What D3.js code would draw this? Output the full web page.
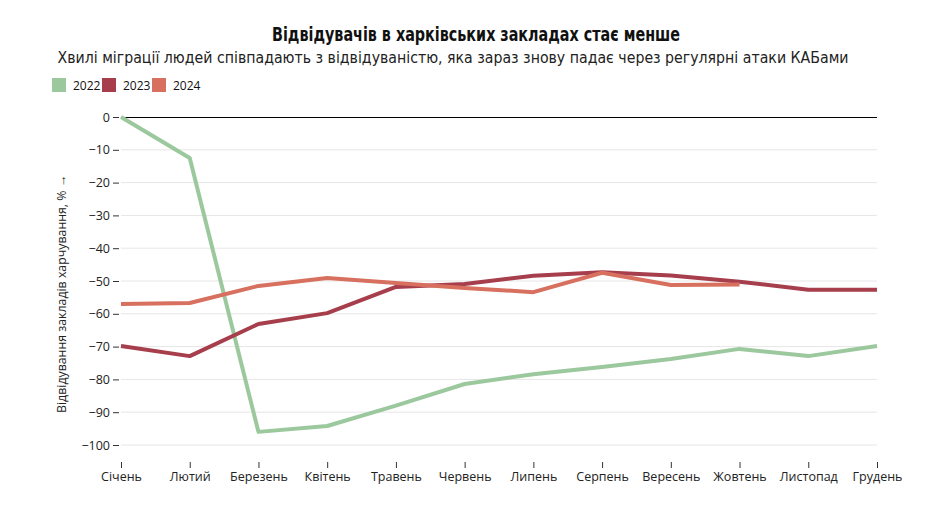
<!DOCTYPE html>
<html><head><meta charset="utf-8">
<script src="https://cdn.jsdelivr.net/npm/d3@7"></script>
<style>
body{margin:0;background:#fff;}
text{font-family:"Open Sans","Noto Sans",sans-serif;}
.cond{font-family:"Liberation Sans Narrow","DejaVu Sans Condensed","Roboto",sans-serif;}
</style></head>
<body><svg id="c" width="927" height="527"></svg>
<script>
const months = ["Січень","Лютий","Березень","Квітень","Травень","Червень","Липень","Серпень","Вересень","Жовтень","Листопад","Грудень"];
const years = ["2022","2023","2024"];
const colors = ["#9cc89e","#a63e4c","#d7705f"];
const v2022 = [0,-12.5,-96,-94.2,-88,-81.4,-78.4,-76.2,-73.8,-70.7,-72.9,-69.8];
const v2023 = [-69.8,-72.9,-63.1,-59.8,-51.8,-50.9,-48.4,-47.3,-48.3,-50.2,-52.7,-52.7];
const v2024 = [-57,-56.7,-51.5,-49.1,-50.6,-52.1,-53.4,-47.5,-51.2,-51.1];
const yTicks = [0,-10,-20,-30,-40,-50,-60,-70,-80,-90,-100];
const series = [v2022,v2023,v2024];

const svg = d3.select("#c");
const x = d3.scalePoint().domain(months).range([121,877]);
const y = d3.scaleLinear().domain([-100,0]).range([445,117]);

svg.append("text").attr("class","cond").attr("x",476).attr("y",41).attr("text-anchor","middle")
  .attr("font-size",19).attr("font-weight","bold").attr("fill","#111")
  .attr("textLength",408).attr("lengthAdjust","spacingAndGlyphs")
  .text("Відвідувачів в харківських закладах стає менше");
svg.append("text").attr("class","cond").attr("x",453).attr("y",63).attr("text-anchor","middle")
  .attr("font-size",15.5).attr("fill","#222")
  .attr("textLength",791).attr("lengthAdjust","spacingAndGlyphs")
  .text("Хвилі міграції людей співпадають з відвідуваністю, яка зараз знову падає через регулярні атаки КАБами");

// legend
const lx = [52,102,152];
years.forEach((yr,i)=>{
  svg.append("rect").attr("x",lx[i]).attr("y",78).attr("width",14).attr("height",14).attr("fill",colors[i]);
  svg.append("text").attr("x",lx[i]+21).attr("y",90).attr("font-size",12).attr("fill","#111").text(yr);
});

// grid
svg.append("g").selectAll("line").data(yTicks.filter(d=>d!==0)).join("line")
  .attr("x1",121).attr("x2",877).attr("y1",d=>y(d)).attr("y2",d=>y(d))
  .attr("stroke","#e6e6e6").attr("stroke-width",1);

// y axis
const ya = svg.append("g").attr("transform","translate(119,0)")
  .call(d3.axisLeft(y).tickValues(yTicks).tickSize(6).tickPadding(3).tickFormat(d=>d===0?"0":"−"+Math.abs(d)));
ya.select(".domain").remove();
ya.selectAll("text").attr("font-size",12.5).attr("fill","#222").style("font-family","'Open Sans',sans-serif");
ya.selectAll("line").attr("stroke","#333");

// x axis
const xa = svg.append("g").attr("transform","translate(0,462)")
  .call(d3.axisBottom(x).tickSize(6).tickPadding(4));
xa.select(".domain").remove();
xa.selectAll("text").attr("font-size",12.5).attr("fill","#222").style("font-family","'Open Sans',sans-serif");
xa.selectAll("line").attr("stroke","#333");

// zero line
svg.append("line").attr("x1",121).attr("x2",877).attr("y1",y(0)+0.5).attr("y2",y(0)+0.5).attr("stroke","#000").attr("stroke-width",1);

// axis title
svg.append("text").attr("transform","translate(66,294) rotate(-90)").attr("text-anchor","middle")
  .attr("font-size",13).attr("fill","#222")
  .attr("textLength",238).attr("lengthAdjust","spacingAndGlyphs")
  .text("Відвідування закладів харчування, % →");

const line = d3.line().x((d,i)=>x(months[i])).y(d=>y(d));
series.forEach((s,i)=>{
  svg.append("path").datum(s).attr("d",line).attr("fill","none").attr("stroke",colors[i])
    .attr("stroke-width",4).attr("stroke-linejoin","round");
});
</script></body></html>
